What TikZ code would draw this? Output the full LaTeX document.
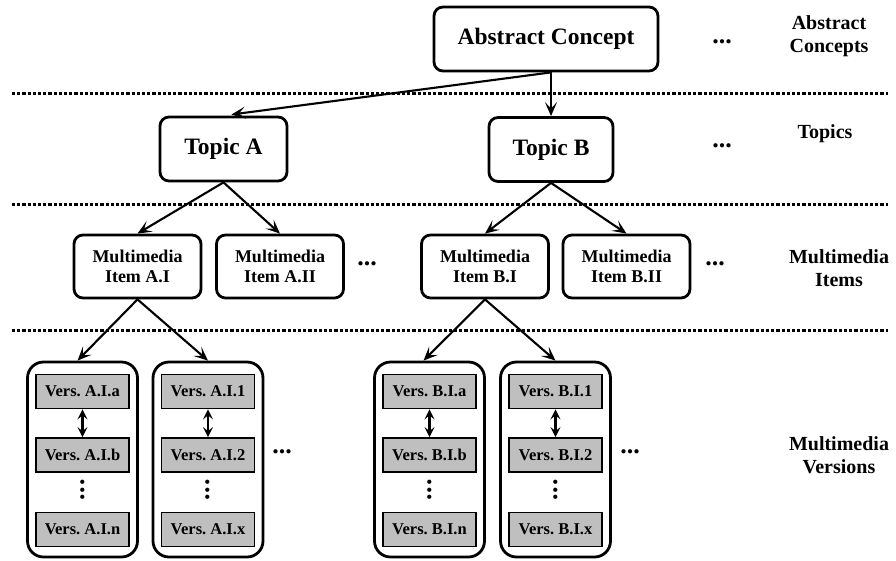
\documentclass[tikz,border=0pt]{standalone}
\usepackage{fontspec}
\setmainfont{Liberation Serif}
\frenchspacing
\usetikzlibrary{arrows.meta}
\newcommand{\hdots}{\textbf{...}}
\newcommand{\vdotsbold}{\rotatebox{90}{\textbf{.\kern1pt.\kern1pt.}}}

\begin{document}
\begin{tikzpicture}[x=1pt,y=-1pt,
    concept/.style={draw,line width=2.8pt,rounded corners=9pt,font=\fontsize{23.5}{26}\selectfont\bfseries},
    item/.style={draw,line width=2.8pt,rounded corners=9pt,minimum width=127pt,minimum height=63pt,
        align=center,font=\fontsize{18}{20.5}\selectfont\bfseries},
    container/.style={draw,line width=2.8pt,rounded corners=16pt,minimum width=110pt,minimum height=195pt},
    vers/.style={draw,fill=gray!50,line width=1.8pt,minimum width=93pt,minimum height=34pt,
        font=\fontsize{16.5}{19}\selectfont\bfseries},
    level/.style={align=center,font=\fontsize{20}{23}\selectfont\bfseries},
    more/.style={font=\fontsize{26}{26}\selectfont},
    layer/.style={line width=3pt,dash pattern=on 3.2pt off 2pt},
    arr/.style={line width=2.1pt,-{Stealth[length=14pt,width=12pt,inset=6.5pt]}},
    dbl/.style={line width=2.6pt,{Stealth[length=10pt,width=10pt,inset=4pt]}-{Stealth[length=10pt,width=10pt,inset=4pt]}}]
    \useasboundingbox (0,0) rectangle (896,560);
    % layer separators
    \draw[layer] (12,93) -- (888,93);
    \draw[layer] (12,204) -- (888,204);
    \draw[layer] (12,330) -- (888,330);
    % abstract concept and topics
    \node[concept,minimum width=224pt,minimum height=64pt] (concept) at (546,39) {Abstract Concept};
    \node[concept,minimum width=127pt,minimum height=64pt] (topicA) at (223.5,149) {Topic A};
    \node[concept,minimum width=124pt,minimum height=64pt] (topicB) at (551,149.5) {Topic B};
    \draw[arr] (topicB |- concept.south) -- (topicB.north);
    \draw[arr,shorten >=8pt] (topicB |- concept.south) -- (topicA.north);
    % multimedia items
    \node[item] (itemAI) at (137.5,266.5) {Multimedia\\Item A.I};
    \node[item] (itemAII) at (280,266.5) {Multimedia\\Item A.II};
    \node[item] (itemBI) at (485,266.5) {Multimedia\\Item B.I};
    \node[item] (itemBII) at (626.5,266.5) {Multimedia\\Item B.II};
    \draw[arr] (topicA.south) -- (itemAI.north);
    \draw[arr] (topicA.south) -- (itemAII.north);
    \draw[arr] (topicB.south) -- (itemBI.north);
    \draw[arr] (topicB.south) -- (itemBII.north);
    % multimedia versions
    \foreach \name/\x/\va/\vb/\vn in {AIa/82.5/A.I.a/A.I.b/A.I.n, AIi/208/A.I.1/A.I.2/A.I.x,
        BIa/429.5/B.I.a/B.I.b/B.I.n, BIi/555.5/B.I.1/B.I.2/B.I.x}{
        \node[container] (box\name) at (\x,459.5) {};
        \node[vers] (top\name) at (\x,391.5) {Vers. \va};
        \node[vers] (mid\name) at (\x,455) {Vers. \vb};
        \node[vers] (bot\name) at (\x,529.5) {Vers. \vn};
        \node[more] (gap\name) at (\x,490) {\vdotsbold};
        \draw[dbl] (top\name.south) -- (mid\name.north);
    }
    \draw[arr] (itemAI.south) -- ([xshift=-5pt]boxAIa.north);
    \draw[arr] (itemAI.south) -- (boxAIi.north);
    \draw[arr] (itemBI.south) -- ([xshift=-6pt]boxBIa.north);
    \draw[arr] (itemBI.south) -- (boxBIi.north);
    % more of the same
    \node[more] (moreC) at (722,42) {\hdots};
    \node[more] (moreT) at (722,146) {\hdots};
    \node[more] (moreIA) at (367,264) {\hdots};
    \node[more] (moreIB) at (715,264) {\hdots};
    \node[more] (moreVA) at (282,452) {\hdots};
    \node[more] (moreVB) at (630,452) {\hdots};
    % level names
    \node[level] (lvlC) at (829,36) {Abstract\\Concepts};
    \node[level] (lvlT) at (825,134) {Topics};
    \node[level] (lvlI) at (839,268) {Multimedia\\Items};
    \node[level] (lvlV) at (839,455) {Multimedia\\Versions};
\end{tikzpicture}
\end{document}
